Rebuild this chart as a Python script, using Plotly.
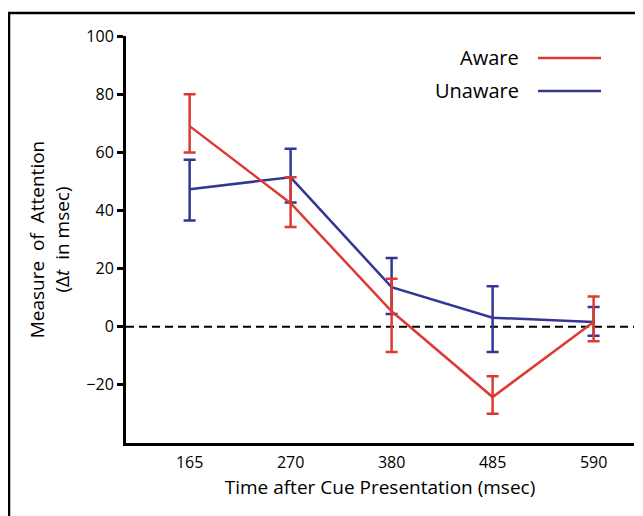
import plotly.graph_objects as go

times = ['165', '270', '380', '485', '590']

aware = [69, 42.5, 5.3, -24.2, 1.6]
aware_hi = [80, 51.4, 16.5, -17, 10.4]
aware_lo = [59.9, 34.3, -8.7, -29.9, -5]

unaware = [47.3, 51.4, 13.6, 3.1, 1.6]
unaware_hi = [57.4, 61.2, 23.6, 13.9, 6.8]
unaware_lo = [36.5, 42.7, 4.4, -8.7, -3.1]

RED = '#dc3a32'
BLUE = '#353596'
FONT = 'Open Sans'


def trace(y, hi, lo, color, name):
    return go.Scatter(
        x=times, y=y, mode='lines', name=name,
        line=dict(color=color, width=2.5),
        error_y=dict(type='data', symmetric=False,
                     array=[h - v for h, v in zip(hi, y)],
                     arrayminus=[v - l for v, l in zip(y, lo)],
                     color=color, thickness=2.5, width=6),
        showlegend=False)


fig = go.Figure()
fig.add_trace(trace(unaware, unaware_hi, unaware_lo, BLUE, 'Unaware'))
fig.add_trace(trace(aware, aware_hi, aware_lo, RED, 'Aware'))

# zero reference line
fig.add_shape(type='line', xref='paper', yref='y', x0=0, x1=1, y0=0, y1=0,
              line=dict(color='black', width=2, dash='8px,5px'), layer='below')

# outer frame (cut at right and bottom)
fig.add_shape(type='rect', xref='paper', yref='paper',
              x0=-0.2303, x1=1.2, y0=-0.6, y1=1.0565,
              line=dict(color='black', width=2.5))

# legend drawn by hand: text first, line sample after
for label, color, yp in [('Aware', RED, 0.946), ('Unaware', BLUE, 0.865)]:
    fig.add_annotation(xref='paper', yref='paper', x=(521 - 126) / 508, y=yp,
                       text=label, showarrow=False, xanchor='right', yanchor='middle',
                       font=dict(size=20, color='black', family=FONT))
    fig.add_shape(type='line', xref='paper', yref='paper',
                  x0=(538 - 126) / 508, x1=(601 - 126) / 508, y0=yp, y1=yp,
                  line=dict(color=color, width=2.5))

# the page body adds an 8px margin, so the figure is 8px smaller
fig.update_layout(
    width=635, height=508,
    margin=dict(l=118, r=9, t=28, b=73),
    plot_bgcolor='white', paper_bgcolor='white',
    font=dict(family=FONT, color='black'),
    xaxis=dict(range=[-0.63, 4.4], showgrid=False, zeroline=False,
               showline=True, linecolor='black', linewidth=3, automargin=False,
               ticks='', tickfont=dict(size=16), ticklabelstandoff=3,
               title=dict(text='Time after Cue Presentation (msec)',
                          font=dict(size=19), standoff=9)),
    yaxis=dict(range=[-40, 100], tickvals=[-20, 0, 20, 40, 60, 80, 100],
               ticktext=['\u221220', '0', '20', '40', '60', '80', '100'],
               showgrid=False, zeroline=False, automargin=False,
               showline=True, linecolor='black', linewidth=3,
               ticks='outside', ticklen=6, tickwidth=3, tickcolor='black',
               tickfont=dict(size=16),
               title=dict(text='Measure  of  Attention<br>(\u0394<i>t</i>  in msec)',
                          font=dict(size=19), standoff=12)),
    yaxis2=dict(range=[-40, 100], overlaying='y', side='left',
                tickvals=[-20, 0, 20, 40, 60, 80, 100], showticklabels=False,
                showgrid=False, zeroline=False, showline=False,
                ticks='inside', ticklen=4, tickwidth=3, tickcolor='black'),
)

fig.write_html("out.html")
